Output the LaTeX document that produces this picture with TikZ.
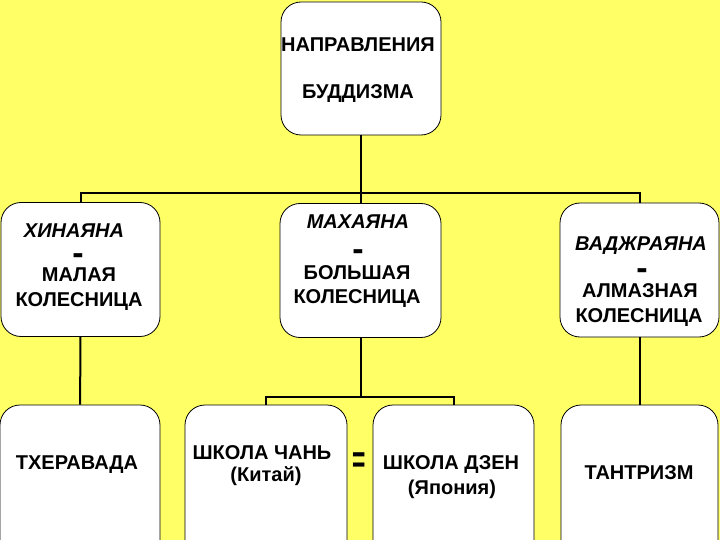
\documentclass[tikz,border=0pt]{standalone}
\usepackage{fontspec}
\setmainfont{Liberation Sans}
\usetikzlibrary{positioning}
\definecolor{bgyellow}{RGB}{255,255,102}

\begin{document}
\begin{tikzpicture}
[
	               x = 1pt,
	               y = -1pt,
	     box/.style = { draw=black, fill=white, line width=0.8pt, rounded corners=20pt, inner sep=0pt, minimum width=160pt, minimum height=134pt },
	  lowbox/.style = { box, minimum height=156pt },
	 boxtext/.style = { draw=none, fill=none, inner sep=0pt, anchor=base, font=\fontsize{20}{22}\selectfont\bfseries },
	  school/.style = { boxtext, font=\fontsize{20}{22}\selectfont\bfseries\itshape },
	dashmark/.style = { boxtext, font=\fontsize{34}{34}\selectfont\bfseries },
	equalmark/.style = { draw=none, fill=none, inner sep=0pt, font=\fontsize{38}{38}\selectfont\bfseries, transform shape, xscale=0.6 },
	    link/.style = { draw=black, line width=2pt }
]

    % background, clipped to the page
    \fill[bgyellow] (0,0) rectangle (720,540);
    \useasboundingbox (0,0) rectangle (720,540);
    \clip (0,0) rectangle (720,540);

    \coordinate (busTop)    at (0,193);
    \coordinate (busMiddle) at (0,397);

    \node (top)        at (361,  68.5) [box]    [minimum width=160pt, minimum height=133pt] {};

    \node (hinayana)   at (80.5, 269.5) [box]   [minimum width=159pt] {};
    \node (mahayana)   at (360.5,270.5) [box]   [minimum width=161pt] {};
    \node (vajrayana)  at (639.5,270)   [box]   [minimum width=159pt] {};

    \node (theravada)  at (80,   483) [lowbox]  {};
    \node (chan)       at (266,  483) [lowbox]  [minimum width=162pt] {};
    \node (zen)        at (453.5,483) [lowbox]  [minimum width=161pt] {};
    \node (tantrism)   at (639.5,483) [lowbox]  [minimum width=157pt] {};

    \draw[link] (top.south) -- (top.south |- busTop);
    \draw[link] (hinayana.north) |- (busTop -| vajrayana.north) -- (vajrayana.north);
    \draw[link] (mahayana.north) -- (mahayana.north |- busTop);
    \draw[link] (hinayana) -- (theravada);
    \draw[link] (vajrayana) -- (tantrism);
    \draw[link] (mahayana.south) -- (mahayana.south |- busMiddle);
    \draw[link] (chan.north) |- (busMiddle -| zen.north) -- (zen.north);

    \node (topLineA)       at (358,  52) [boxtext]  {НАПРАВЛЕНИЯ};
    \node (topLineB)       at (358,  99) [boxtext]  {БУДДИЗМА};

    \node (hinayanaName)   at (74,  237) [school]   {ХИНАЯНА};
    \node (hinayanaDash)   at (78,  264) [dashmark] {-};
    \node (hinayanaLineA)  at (79,  281) [boxtext]  {МАЛАЯ};
    \node (hinayanaLineB)  at (79,  306) [boxtext]  {КОЛЕСНИЦА};

    \node (mahayanaName)   at (358, 229) [school]   {МАХАЯНА};
    \node (mahayanaDash)   at (358, 260) [dashmark] {-};
    \node (mahayanaLineA)  at (357, 279) [boxtext]  {БОЛЬШАЯ};
    \node (mahayanaLineB)  at (357, 303) [boxtext]  {КОЛЕСНИЦА};

    \node (vajrayanaName)  at (641, 250) [school]   {ВАДЖРАЯНА};
    \node (vajrayanaDash)  at (642, 279) [dashmark] {-};
    \node (vajrayanaLineA) at (640, 297) [boxtext]  {АЛМАЗНАЯ};
    \node (vajrayanaLineB) at (639, 322) [boxtext]  {КОЛЕСНИЦА};

    \node (theravadaName)  at (77,  469) [boxtext]  {ТХЕРАВАДА};

    \node (chanName)       at (262, 459) [boxtext]  {ШКОЛА ЧАНЬ};
    \node (chanPlace)      at (266, 481) [boxtext]  {(Китай)};
    \node (equalSign)      at (359, 463) [equalmark] {=};
    \node (zenName)        at (451, 469) [boxtext]  {ШКОЛА ДЗЕН};
    \node (zenPlace)       at (452, 494) [boxtext]  {(Япония)};

    \node (tantrismName)   at (639, 479) [boxtext]  {ТАНТРИЗМ};

\end{tikzpicture}
\end{document}
